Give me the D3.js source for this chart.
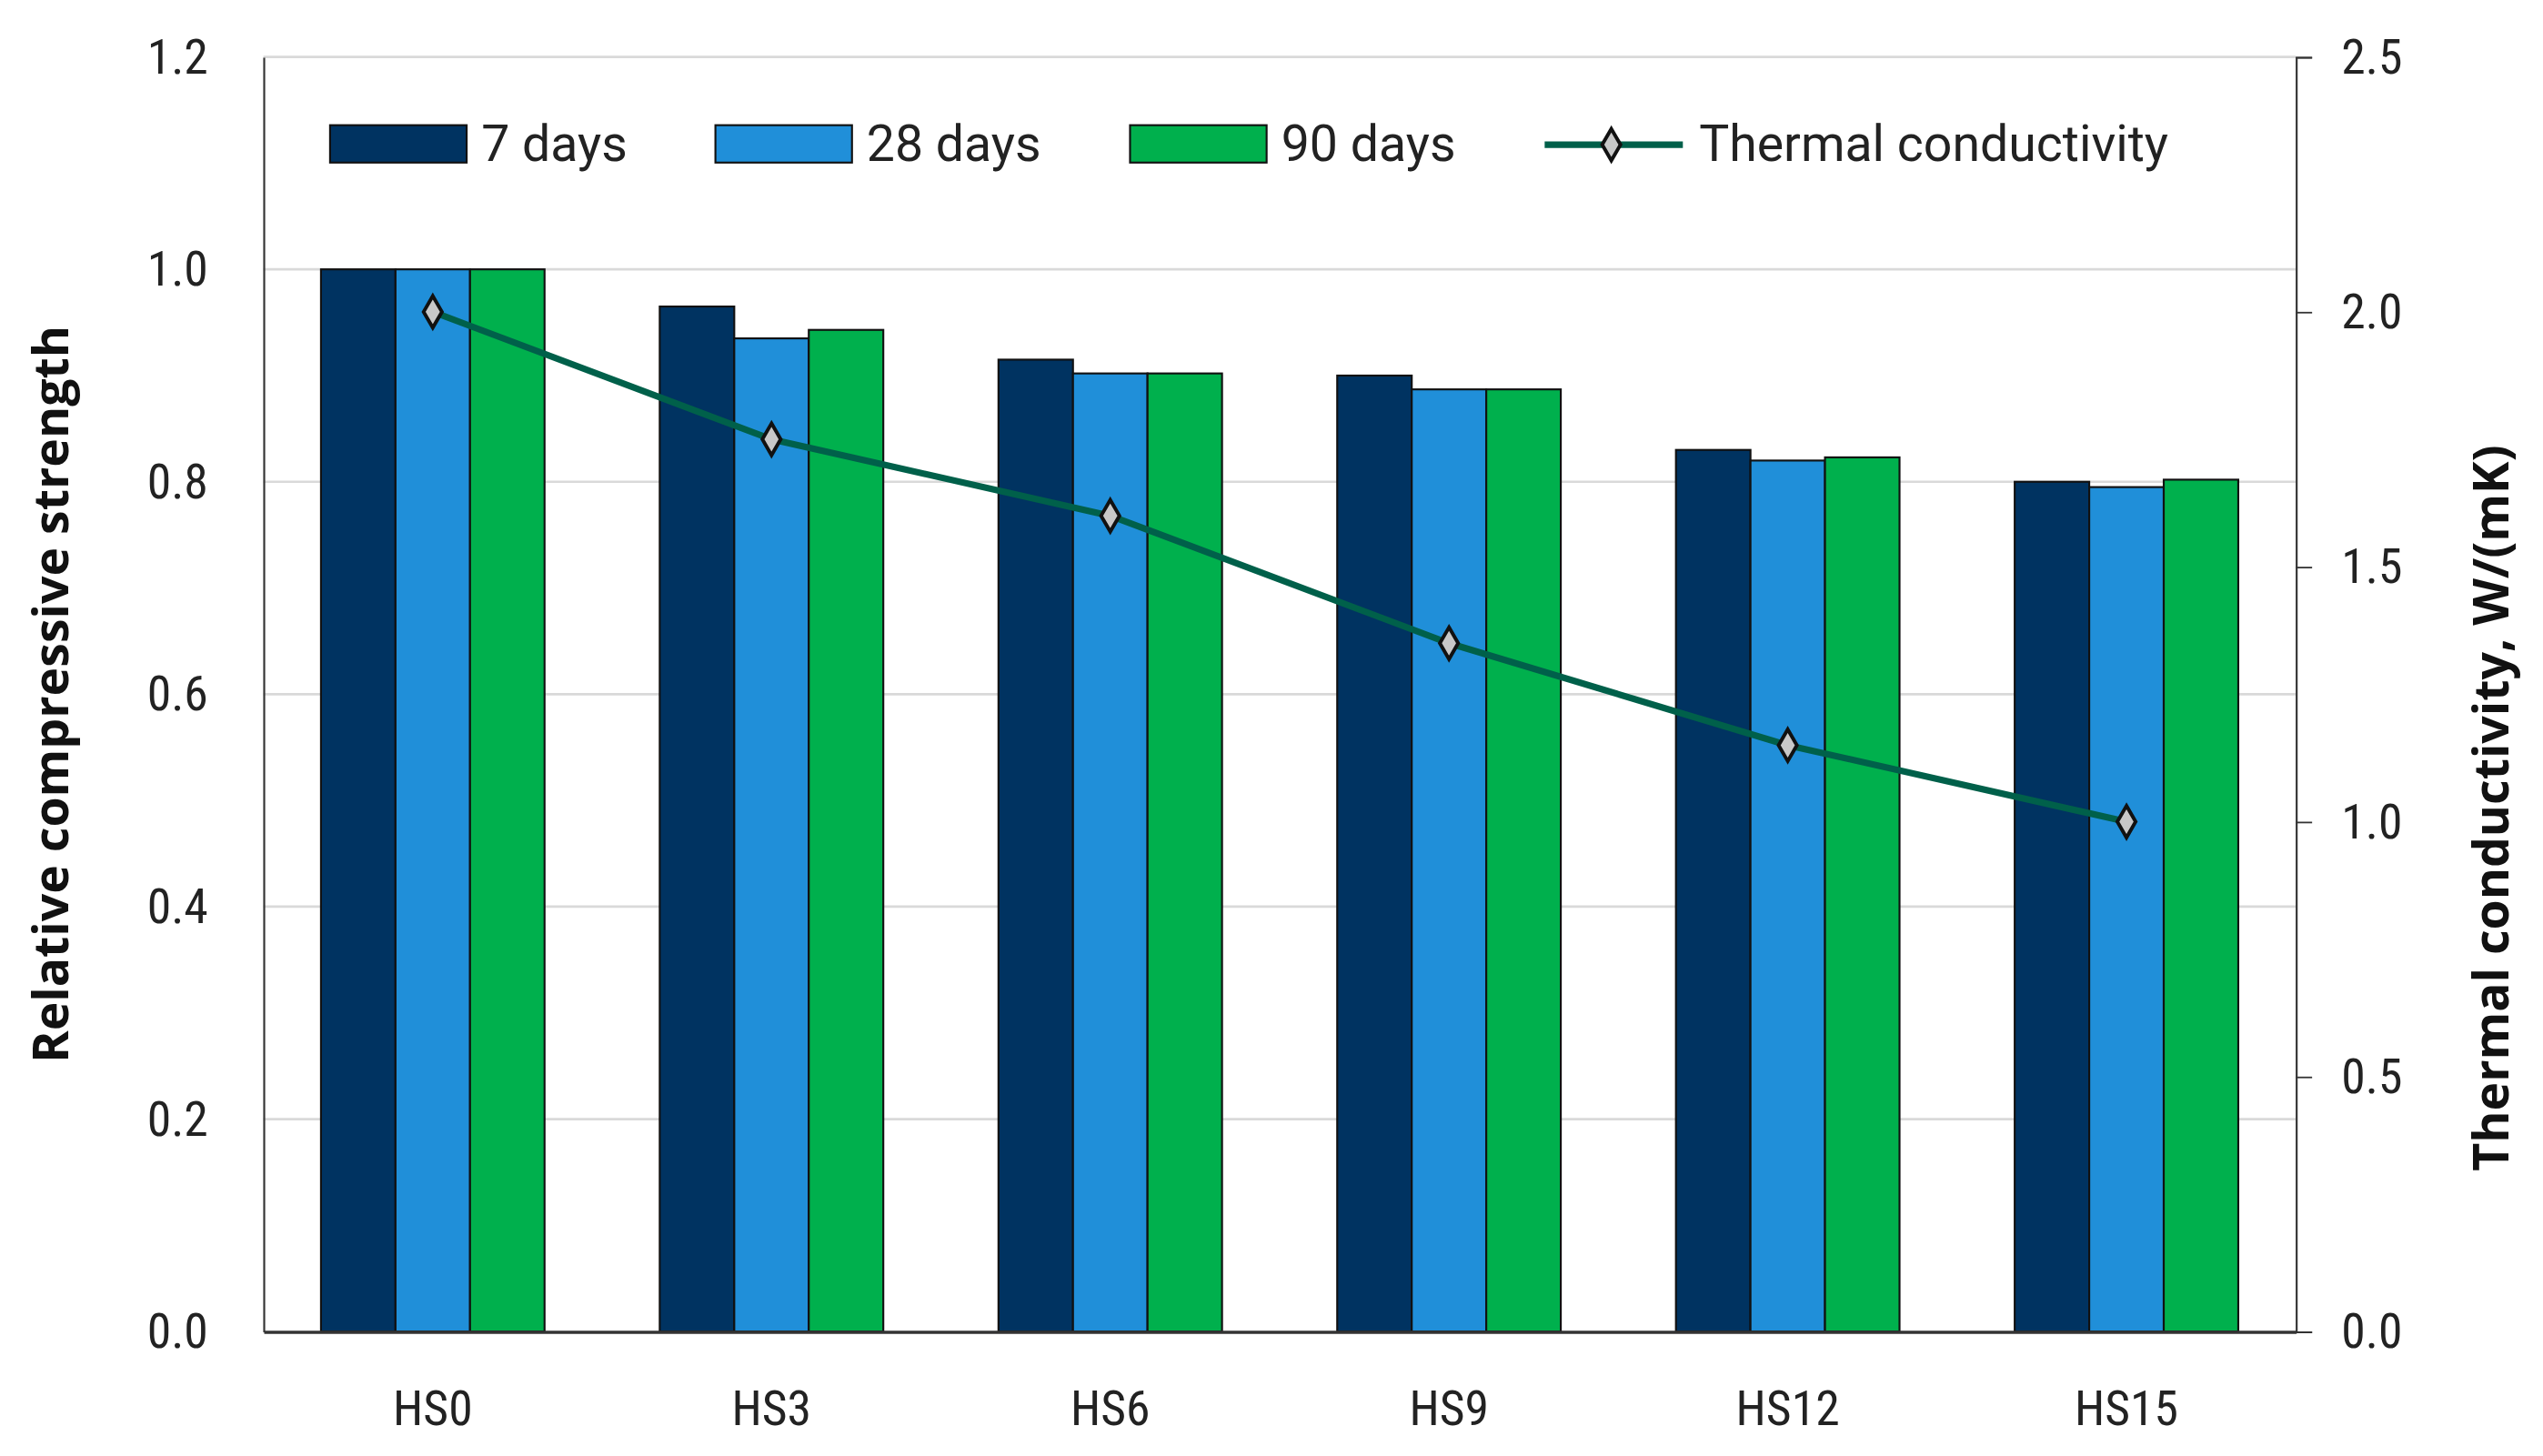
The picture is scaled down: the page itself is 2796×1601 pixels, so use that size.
<!DOCTYPE html>
<html>
<head>
<meta charset="utf-8">
<script src="https://cdn.jsdelivr.net/npm/d3@7"></script>
<style>
  body { margin: 0; background: #fff; }
  .tick text { font-family: "Liberation Sans Narrow", "Roboto Condensed", Roboto, sans-serif; }
</style>
</head>
<body>
<div id="chart"></div>
<script>
// data
var categories = ["HS0", "HS3", "HS6", "HS9", "HS12", "HS15"];
var days7 = [1.0, 0.965, 0.915, 0.9, 0.83, 0.8];
var days28 = [1.0, 0.935, 0.902, 0.887, 0.82, 0.795];
var days90 = [1.0, 0.943, 0.902, 0.887, 0.823, 0.802];
var thermal = [2.0, 1.75, 1.6, 1.35, 1.15, 1.0];
var leftTicks = [0, 0.2, 0.4, 0.6, 0.8, 1.0, 1.2];
var rightTicks = [0, 0.5, 1.0, 1.5, 2.0, 2.5];
var seriesNames = ["7 days", "28 days", "90 days"];
var colors = ["#003361", "#208fd9", "#00b04d"];

// drawn in a 1564-wide coordinate box, scaled to the window
var svgWidth = 1564, svgHeight = 1564 * 1601 / 2796;
var margin = {top: 35, right: 152, bottom: 77, left: 162};
var width = svgWidth - margin.left - margin.right;
var height = 819 - margin.top;

var svg = d3.select("#chart").append("svg")
  .attr("width", 2796).attr("height", 1601)
  .attr("viewBox", `0 0 ${svgWidth} ${svgHeight}`);
var chartGroup = svg.append("g").attr("transform", `translate(${margin.left}, ${margin.top})`);

var x0 = d3.scaleBand().domain(categories).range([0, width]).paddingInner(0.34).paddingOuter(0.17);
var x1 = d3.scaleBand().domain(seriesNames).range([0, x0.bandwidth()]);
var yLeft = d3.scaleLinear().domain([0, 1.2]).range([height, 0]);
var yRight = d3.scaleLinear().domain([0, 2.5]).range([height, 0]);

// gridlines
chartGroup.selectAll(".grid").data(leftTicks.slice(1)).enter().append("line")
  .attr("x1", 0).attr("x2", width)
  .attr("y1", d => yLeft(d)).attr("y2", d => yLeft(d))
  .attr("stroke", "#d9d9d9").attr("stroke-width", 1.5);

// axes
var leftAxis = d3.axisLeft(yLeft).tickValues(leftTicks).tickFormat(d3.format(".1f")).tickSize(0).tickPadding(34);
var gl = chartGroup.append("g").call(leftAxis);
gl.select(".domain").attr("stroke", "#333").attr("stroke-width", 1.2);
gl.selectAll("text").attr("font-size", 30).attr("fill", "#222");

var rightAxis = d3.axisRight(yRight).tickValues(rightTicks).tickFormat(d3.format(".1f")).tickSize(10).tickPadding(18);
var gr = chartGroup.append("g").attr("transform", `translate(${width},0)`).call(rightAxis);
gr.select(".domain").attr("stroke", "#333").attr("stroke-width", 1.2);
gr.selectAll("line").attr("stroke", "#333");
gr.selectAll("text").attr("font-size", 30).attr("fill", "#222");

// bars
var rows = categories.map((c, i) => ({cat: c, vals: [days7[i], days28[i], days90[i]]}));
var groups = chartGroup.selectAll(".grp").data(rows).enter().append("g")
  .attr("transform", d => `translate(${x0(d.cat)},0)`);
groups.selectAll("rect").data(d => d.vals.map((v, j) => ({name: seriesNames[j], v: v, j: j}))).enter()
  .append("rect")
  .attr("x", d => x1(d.name)).attr("width", x1.bandwidth())
  .attr("y", d => yLeft(d.v)).attr("height", d => height - yLeft(d.v))
  .attr("fill", d => colors[d.j]).attr("stroke", "#111").attr("stroke-width", 1.2);

// bottom axis
var bottomAxis = d3.axisBottom(x0).tickSize(0).tickPadding(36);
var gb = chartGroup.append("g").attr("transform", `translate(0,${height})`).call(bottomAxis);
gb.select(".domain").attr("stroke", "#333").attr("stroke-width", 2);
gb.selectAll("text").attr("font-size", 30).attr("fill", "#222");

// thermal conductivity line
var cx = c => x0(c) + x0.bandwidth() / 2;
chartGroup.append("path").datum(thermal)
  .attr("d", d3.line().x((d, i) => cx(categories[i])).y(d => yRight(d)))
  .attr("fill", "none").attr("stroke", "#00604a").attr("stroke-width", 4);
var diamond = d3.symbol().type(d3.symbolDiamond).size(110);
chartGroup.selectAll(".mk").data(thermal).enter().append("path")
  .attr("d", diamond)
  .attr("transform", (d, i) => `translate(${cx(categories[i])},${yRight(d)})`)
  .attr("fill", "#c8c8c8").attr("stroke", "#111").attr("stroke-width", 2.2);

// axis titles
svg.append("text").attr("transform", `translate(42,${margin.top + height / 2}) rotate(-90)`)
  .attr("text-anchor", "middle").attr("font-family", "Open Sans, sans-serif").attr("font-weight", "bold")
  .attr("font-size", 30).attr("fill", "#111").text("Relative compressive strength");
svg.append("text").attr("transform", `translate(1543,${margin.top + height / 2 + 70}) rotate(-90)`)
  .attr("text-anchor", "middle").attr("font-family", "Open Sans, sans-serif").attr("font-weight", "bold")
  .attr("font-size", 30).attr("fill", "#111").text("Thermal conductivity, W/(mK)");

// legend
var legX = [203, 440, 695];
var legend = svg.append("g").attr("font-family", "Liberation Sans Narrow, Roboto, sans-serif").attr("font-size", 31).attr("fill", "#222");
seriesNames.forEach(function(n, j) {
  legend.append("rect").attr("x", legX[j]).attr("y", 77).attr("width", 84).attr("height", 23)
    .attr("fill", colors[j]).attr("stroke", "#111").attr("stroke-width", 1.2);
  legend.append("text").attr("x", legX[j] + 93).attr("y", 99).text(n);
});
legend.append("line").attr("x1", 950).attr("x2", 1035).attr("y1", 89).attr("y2", 89)
  .attr("stroke", "#00604a").attr("stroke-width", 4);
legend.append("path").attr("d", diamond).attr("transform", "translate(991,89)")
  .attr("fill", "#c8c8c8").attr("stroke", "#111").attr("stroke-width", 2.2);
legend.append("text").attr("x", 1045).attr("y", 99).text("Thermal conductivity");
</script>
</body>
</html>
